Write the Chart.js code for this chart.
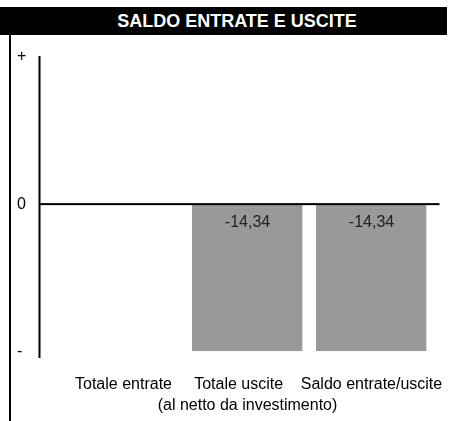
<!DOCTYPE html>
<html>
<head>
<meta charset="utf-8">
<script src="https://cdn.jsdelivr.net/npm/chart.js@4/dist/chart.umd.min.js"></script>
<style>
  body { margin: 0; background: #fff; width: 450px; height: 421px; overflow: hidden; position: relative; }
  #title {
    position: absolute; top: 7px; left: 0; width: 447px; height: 28px;
    background: #000; color: #fff; box-sizing: border-box; padding-left: 27px;
    font: bold 18px "Liberation Sans", Arial, sans-serif; line-height: 28px; text-align: center;
  }
  #frame { position: absolute; left: 9px; top: 35px; bottom: 0; width: 2px; background: #000; }
  #wrap { position: absolute; left: 0; top: 35px; width: 450px; height: 386px; }
</style>
</head>
<body>
<div id="title">SALDO ENTRATE E USCITE</div>
<div id="frame"></div>
<div id="wrap"><canvas id="chart"></canvas></div>
<script>
// categorie e valori
const categories = [
  'Totale entrate',
  ['Totale uscite    ', '(al netto da investimento)'],
  'Saldo entrate/uscite'
];
const values = [0, -14.34, -14.34];
const yTickValues = [14.34, 0, -14.34];
const yTickLabels = ['+', '0', '-'];

const font = '"Liberation Sans", Arial, sans-serif';

// asse verticale e linea dello zero, un po' oltre l'area del grafico
const axisLines = {
  id: 'axisLines',
  afterDatasetsDraw(chart) {
    const { ctx, chartArea, scales } = chart;
    const x0 = chartArea.left - 22;
    const y0 = scales.y.getPixelForValue(0);
    ctx.save();
    ctx.fillStyle = '#000';
    ctx.fillRect(x0 - 1, chartArea.top, 2, chartArea.bottom - chartArea.top);
    ctx.fillRect(x0, y0 - 1, chartArea.right + 6 - x0, 2);
    ctx.restore();
  }
};

// etichette dei valori dentro le barre
const valueLabels = {
  id: 'valueLabels',
  afterDatasetsDraw(chart) {
    const { ctx } = chart;
    const meta = chart.getDatasetMeta(0);
    ctx.save();
    ctx.font = '16px ' + font;
    ctx.fillStyle = '#222';
    ctx.textAlign = 'center';
    ctx.textBaseline = 'middle';
    meta.data.forEach((bar, i) => {
      if (values[i] === 0) return;
      const txt = values[i].toFixed(2).replace('.', ',');
      ctx.fillText(txt, bar.x, bar.base + 18);
    });
    ctx.restore();
  }
};

new Chart(document.getElementById('chart'), {
  type: 'bar',
  data: {
    labels: categories,
    datasets: [{
      data: values,
      backgroundColor: '#999999',
      borderColor: '#dcdcdc',
      borderWidth: { right: 1 },
      barPercentage: 0.895,
      categoryPercentage: 1
    }]
  },
  options: {
    responsive: true,
    maintainAspectRatio: false,
    animation: false,
    layout: { padding: { left: 17, right: 16.5, top: 21, bottom: 0 } },
    plugins: { legend: { display: false }, tooltip: { enabled: false } },
    scales: {
      x: {
        grid: { display: false, drawTicks: false },
        border: { display: false },
        ticks: { color: '#000', font: { family: font, size: 16, lineHeight: 1.3 }, padding: 16, maxRotation: 0, autoSkip: false },
        afterFit(scale) {
          scale.height = 63;
          scale.paddingLeft = 0;
          scale.paddingRight = 0;
        }
      },
      y: {
        min: -15,
        max: 14.44,
        grid: { display: false, drawTicks: false },
        border: { display: false },
        afterBuildTicks(scale) { scale.ticks = yTickValues.map(v => ({ value: v })); },
        afterFit(scale) {
          scale.width = 44.5;
          scale.paddingTop = 0;
          scale.paddingBottom = 0;
        },
        ticks: {
          color: '#000',
          font: { family: font, size: 16 },
          crossAlign: 'far',
          callback(value) { return yTickLabels[yTickValues.indexOf(value)]; }
        }
      }
    }
  },
  plugins: [axisLines, valueLabels]
});
</script>
</body>
</html>
